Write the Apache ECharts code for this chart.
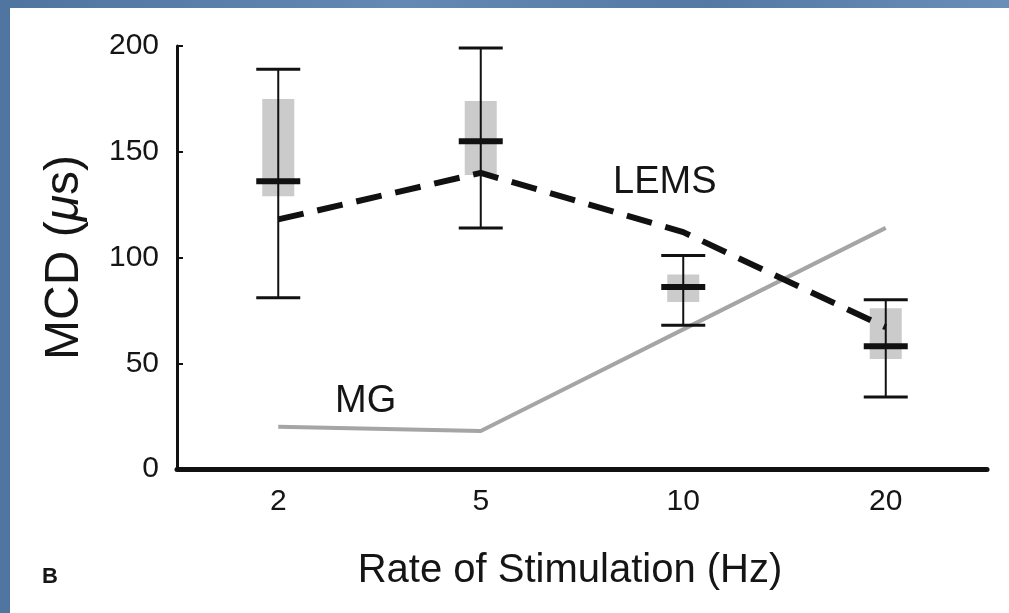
<!DOCTYPE html>
<html>
<head>
<meta charset="utf-8">
<title>MCD vs rate of stimulation</title>
<script src="https://cdn.jsdelivr.net/npm/echarts@6/dist/echarts.min.js"></script>
<style>
  html, body { margin: 0; padding: 0; }
  body {
    width: 1009px; height: 613px; overflow: hidden;
    background: linear-gradient(90deg, #4f74a0, #6489b4 40%, #5479a5 70%, #6a8eb8);
    position: relative;
  }
  #chart {
    position: absolute; left: 10px; top: 8px;
    width: 999px; height: 605px; background: #fff;
  }
</style>
</head>
<body>
<div id="chart"></div>
<script>
// stimulation rates (Hz)
const rates = ['2', '5', '10', '20']
// error bar ends
const errHigh = [189, 199, 101, 80]
const errLow = [81, 114, 68, 34]
// mean marks
const means = [136, 155, 86, 58]
// shaded range
const boxHigh = [175, 174, 92, 76]
const boxLow = [129, 139, 79, 52]
// curves
const lems = [118, 140, 112, 67]
const mg = [20, 18, 66, 114]

const font = "'Liberation Sans', Arial, sans-serif"

const barData = rates.map((r, i) => [i, errLow[i], errHigh[i], boxLow[i], boxHigh[i], means[i]])

let myChart = echarts.init(document.getElementById('chart'))

let option = {
  animation: false,
  grid: { left: 167, top: 38, right: 22, bottom: 144 },
  xAxis: {
    type: 'category',
    data: rates,
    boundaryGap: true,
    axisLine: { lineStyle: { color: '#111', width: 5 } },
    axisTick: { show: false },
    axisLabel: { color: '#151515', fontSize: 30, fontFamily: font, margin: 18 },
    name: 'Rate of Stimulation (Hz)',
    nameLocation: 'middle',
    nameGap: 82,
    nameTextStyle: { color: '#151515', fontSize: 40, fontFamily: font, padding: [0, 24, 0, 0] }
  },
  yAxis: {
    type: 'value',
    min: 0,
    max: 200,
    interval: 50,
    axisLine: { show: true, lineStyle: { color: '#111', width: 3 } },
    axisTick: { show: true, inside: true, length: 6, lineStyle: { color: '#111', width: 2 } },
    splitLine: { show: false },
    axisLabel: { color: '#151515', fontSize: 30, fontFamily: font, margin: 18 },
    name: '{a|MCD (}{b|μ}{a|s)}',
    nameLocation: 'middle',
    nameRotate: 90,
    nameGap: 88,
    nameTextStyle: {
      rich: {
        a: { fontSize: 48, fontFamily: font, color: '#151515' },
        b: { fontSize: 48, fontFamily: font, fontStyle: 'italic', color: '#151515' }
      }
    }
  },
  series: [
    {
      name: 'error',
      type: 'custom',
      z: 3,
      data: barData,
      renderItem: function (params, api) {
        const x = api.value(0)
        const lo = api.coord([x, api.value(1)])
        const hi = api.coord([x, api.value(2)])
        const bLo = api.coord([x, api.value(3)])
        const bHi = api.coord([x, api.value(4)])
        const mid = api.coord([x, api.value(5)])
        const cx = lo[0]
        const capW = 22
        return {
          type: 'group',
          children: [
            {
              type: 'rect',
              shape: { x: cx - 16, y: bHi[1], width: 32, height: bLo[1] - bHi[1] },
              style: { fill: 'rgba(140,140,140,0.45)' }
            },
            {
              type: 'line',
              shape: { x1: cx, y1: hi[1], x2: cx, y2: lo[1] },
              style: { stroke: '#111', lineWidth: 2 }
            },
            {
              type: 'line',
              shape: { x1: cx - capW, y1: hi[1], x2: cx + capW, y2: hi[1] },
              style: { stroke: '#111', lineWidth: 3 }
            },
            {
              type: 'line',
              shape: { x1: cx - capW, y1: lo[1], x2: cx + capW, y2: lo[1] },
              style: { stroke: '#111', lineWidth: 3 }
            },
            {
              type: 'line',
              shape: { x1: cx - capW, y1: mid[1], x2: cx + capW, y2: mid[1] },
              style: { stroke: '#111', lineWidth: 6 }
            }
          ]
        }
      }
    },
    {
      name: 'LEMS',
      type: 'line',
      z: 4,
      data: lems,
      symbol: 'none',
      lineStyle: { color: '#111', width: 6, type: [26, 14] }
    },
    {
      name: 'MG',
      type: 'line',
      z: 2,
      data: mg,
      symbol: 'none',
      lineStyle: { color: '#a5a5a5', width: 4 }
    }
  ],
  graphic: [
    { type: 'text', left: 603, top: 156, style: { text: 'LEMS', font: '38px ' + font, fill: '#151515' } },
    { type: 'text', left: 325, top: 375, style: { text: 'MG', font: '38px ' + font, fill: '#151515' } },
    { type: 'text', left: 32, top: 558, style: { text: 'B', font: 'bold 22px ' + font, fill: '#151515' } }
  ]
}

myChart.setOption(option)
</script>
</body>
</html>
